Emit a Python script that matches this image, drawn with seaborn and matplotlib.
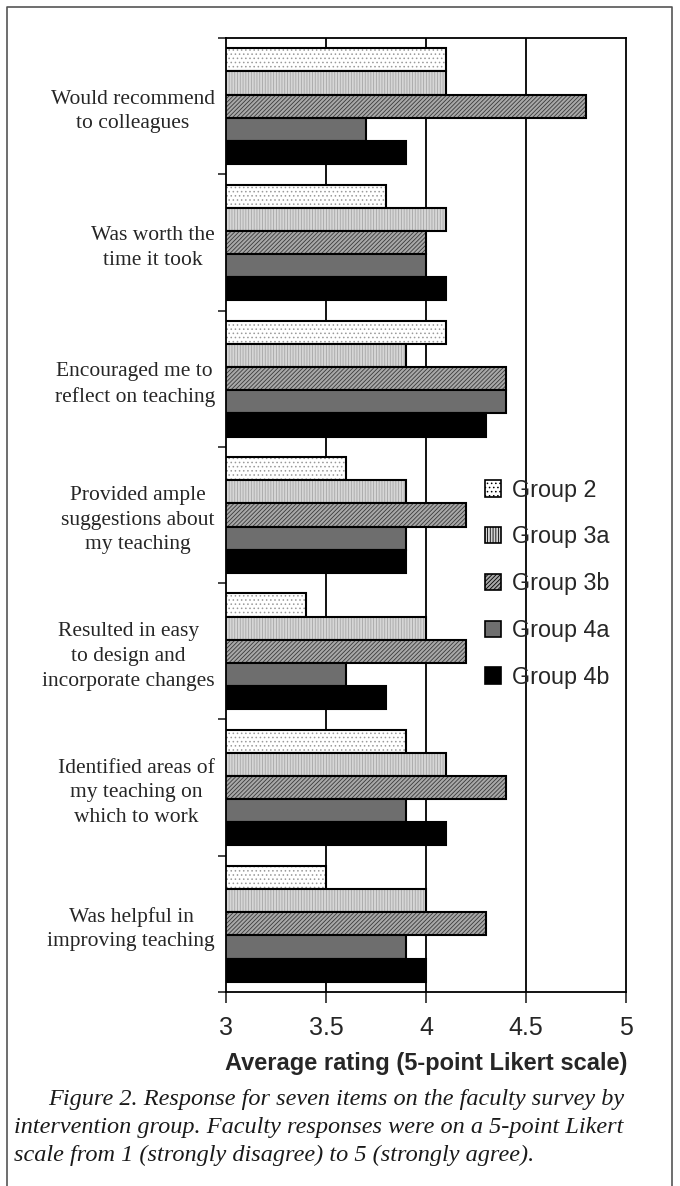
import numpy as np
import pandas as pd
import matplotlib
matplotlib.use("Agg")
import matplotlib.pyplot as plt
import seaborn as sns
from matplotlib.lines import Line2D
from matplotlib.patches import Patch

items = [
    "Would recommend\nto colleagues",
    "Was worth the\ntime it took",
    "Encouraged me to\nreflect on teaching",
    "Provided ample\nsuggestions about\nmy teaching",
    "Resulted in easy\nto design and\nincorporate changes",
    "Identified areas of\nmy teaching on\nwhich to work",
    "Was helpful in\nimproving teaching",
]
groups = ["Group 2", "Group 3a", "Group 3b", "Group 4a", "Group 4b"]

group2 = [4.1, 3.8, 4.1, 3.6, 3.4, 3.9, 3.5]
group3a = [4.1, 4.1, 3.9, 3.9, 4.0, 4.1, 4.0]
group3b = [4.8, 4.0, 4.4, 4.2, 4.2, 4.4, 4.3]
group4a = [3.7, 4.0, 4.4, 3.9, 3.6, 3.9, 3.9]
group4b = [3.9, 4.1, 4.3, 3.9, 3.8, 4.1, 4.0]

x_ticks = [3, 3.5, 4, 4.5, 5]

# fill colours and hatches for each group (grayscale like the print)
fills = ["#ffffff", "#d6d6d6", "#a8a8a8", "#6e6e6e", "#000000"]
hatches = ["....", "||||||", "////////", "", ""]
hatch_cols = ["#9a9a9a", "#a6a6a6", "#3a3a3a", "#6e6e6e", "#000000"]

df = pd.DataFrame({
    "item": np.repeat(items, len(groups)),
    "group": groups * len(items),
    "rating": np.column_stack([group2, group3a, group3b, group4a, group4b]).ravel(),
})

sns.set_style("white")
plt.rcParams["hatch.linewidth"] = 0.6

fig = plt.figure(figsize=(6.8, 11.86), dpi=100)
ax = fig.add_axes([226 / 680, 1 - 992 / 1186, 400 / 680, 954 / 1186])

sns.barplot(data=df, y="item", x="rating", hue="group", order=items,
            hue_order=groups, orient="h", width=0.85, palette=fills,
            edgecolor="black", linewidth=1.5, saturation=1, legend=False, ax=ax)

for cont, hc, h in zip(ax.containers, hatch_cols, hatches):
    for bar in cont:
        bar.set_hatch(h)
        bar._hatch_color = matplotlib.colors.to_rgba(hc)

ax.set_xlim(3, 5)
ax.set_ylim(len(items) - 0.5, -0.5)
ax.set_xticks(x_ticks)
ax.set_xticklabels([f"{t:g}" for t in x_ticks], fontfamily="Liberation Sans", fontsize=18)
ax.set_xlabel("Average rating (5-point Likert scale)", fontfamily="Liberation Sans",
              fontsize=17, fontweight="bold", labelpad=9)
ax.set_ylabel("")

for v in x_ticks[1:-1]:
    ax.axvline(v, color="black", lw=1.3, zorder=0)

ax.set_yticks(range(len(items)))
ax.set_yticklabels(items, fontfamily="Liberation Serif", fontsize=15.5,
                   multialignment="center", linespacing=1.4)
ax.tick_params(axis="y", which="major", length=0, pad=8)
ax.set_yticks(np.arange(-0.5, len(items)), minor=True)
ax.tick_params(axis="y", which="minor", length=6, width=1.2, direction="out", left=True)
ax.tick_params(axis="x", length=8, width=1.2, direction="out", bottom=True, pad=9)

for s in ax.spines.values():
    s.set_color("black")
    s.set_linewidth(1.3)

handles = [Patch(facecolor=f, edgecolor="black", hatch=h, linewidth=1.2)
           for f, h in zip(fills, hatches)]
leg = ax.legend(handles, groups, loc="center left", bbox_to_anchor=(0.6475, 0.428),
                frameon=False, prop={"family": "Liberation Sans", "size": 16.8},
                handlelength=0.7, handleheight=0.7, handletextpad=0.45,
                labelspacing=1.02, borderpad=0, borderaxespad=0)

# page frame
fig.add_artist(Line2D([7 / 680, 7 / 680, 672 / 680, 672 / 680],
                      [0, 1 - 7 / 1186, 1 - 7 / 1186, 0],
                      color="#555555", lw=1.2))

caption = ("Figure 2. Response for seven items on the faculty survey by",
           "intervention group. Faculty responses were on a 5-point Likert",
           "scale from 1 (strongly disagree) to 5 (strongly agree).")
cap_x = [48, 14, 14]
cap_y = [1099, 1127, 1155]
for t, cx, cy in zip(caption, cap_x, cap_y):
    fig.text(cx / 680, 1 - cy / 1186, t, fontfamily="Liberation Serif",
             style="italic", fontsize=17.5, va="center", ha="left", color="#1a1a1a")

fig.savefig("out.png", dpi=100)
